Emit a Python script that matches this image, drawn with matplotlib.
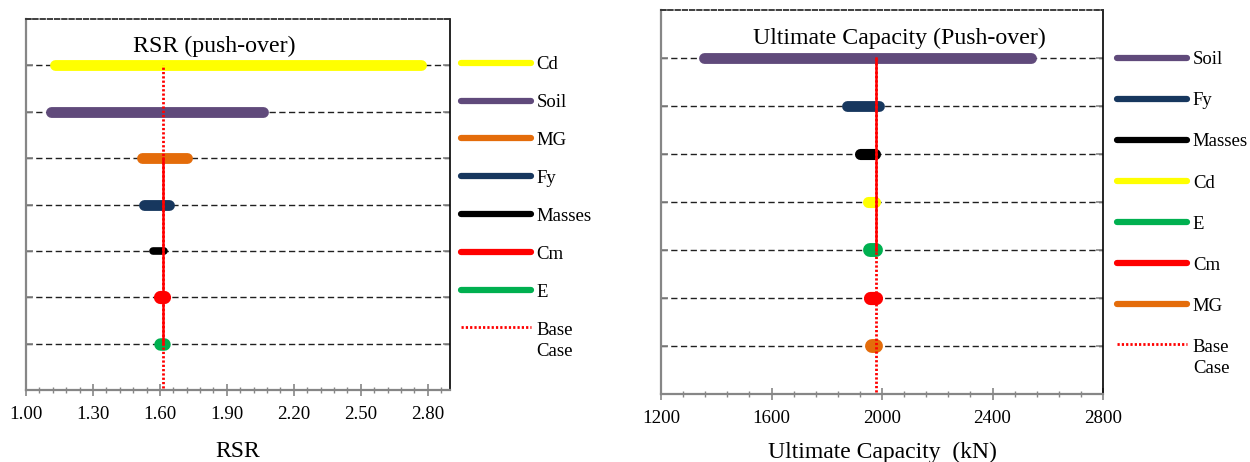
import matplotlib
matplotlib.use("Agg")
import matplotlib.pyplot as plt
from matplotlib.lines import Line2D
from matplotlib.legend_handler import HandlerLine2D
from matplotlib.ticker import MultipleLocator, FormatStrFormatter

plt.rcParams["font.family"] = ["Liberation Serif", "DejaVu Serif"]

# --- RSR (push-over) tornado data, rows listed top to bottom ---
rsr_params = ["Cd", "Soil", "MG", "Fy", "Masses", "Cm", "E"]
rsr_low = [1.13, 1.11, 1.52, 1.53, 1.57, 1.60, 1.60]
rsr_high = [2.77, 2.06, 1.72, 1.64, 1.62, 1.62, 1.62]
rsr_base = 1.615
rsr_base_span = [1, 5]  # rows covered by the solid base-case segment

# --- Ultimate capacity (push-over) tornado data, rows listed top to bottom ---
cap_params = ["Soil", "Fy", "Masses", "Cd", "E", "Cm", "MG"]
cap_low = [1355, 1875, 1920, 1950, 1957, 1958, 1964]
cap_high = [2540, 1990, 1975, 1975, 1978, 1980, 1978]
cap_base = 1978
cap_base_span = [3, 7]

colors = {
    "Cd": "#FFFF00",
    "Soil": "#604A7B",
    "MG": "#E46C0A",
    "Fy": "#17375E",
    "Masses": "#000000",
    "Cm": "#FF0000",
    "E": "#00B050",
}

# bar thickness (pt); the short bars were drawn a bit fatter
rsr_lw = {"Masses": 5.5, "Cm": 9.5, "E": 9.0}
cap_lw = {"Masses": 8.0, "Cd": 8.0, "E": 10.0, "Cm": 9.5, "MG": 10.0}

GRAY = "#868686"


class TopLineHandler(HandlerLine2D):
    """Put the legend line level with the first row of a two-line label."""

    def create_artists(self, legend, orig_handle, xdescent, ydescent, width,
                       height, fontsize, trans):
        artists = super().create_artists(legend, orig_handle, xdescent,
                                         ydescent, width, height, fontsize,
                                         trans)
        shift = 0.75 * fontsize
        for a in artists:
            a.set_ydata([y + shift for y in a.get_ydata()])
        return artists


def tornado(ax, params, lows, highs, widths, base, base_span, xlim, major,
            minor, fmt, title, title_x, xlabel, xlabel_pad, legend_anchor,
            legend_spacing):
    n = len(params)
    rows = list(range(n, 0, -1))

    # dashed guide lines at every row
    for y in rows:
        ax.axhline(y, color="#202020", lw=1.0, ls=(0, (4.5, 2.5)), zorder=1)

    # range bars
    for name, lo, hi, y in zip(params, lows, highs, rows):
        ax.plot([lo, hi], [y, y], color=colors[name], lw=widths.get(name, 7.8),
                solid_capstyle="round", zorder=3)

    # base case reference
    ax.plot([base, base], base_span, color="#FF0000", lw=1.8, zorder=4)
    ax.plot([base, base], [0.05, n], color="#FF0000", lw=2.0,
            ls=(0, (0.8, 0.75)), zorder=5)

    ax.set_xlim(*xlim)
    ax.set_ylim(0, n + 1)
    ax.xaxis.set_major_locator(MultipleLocator(major, offset=xlim[0] % major))
    ax.xaxis.set_minor_locator(MultipleLocator(minor, offset=xlim[0] % minor))
    ax.xaxis.set_major_formatter(FormatStrFormatter(fmt))
    ax.set_yticks(range(0, n + 2))
    ax.set_yticklabels([])

    ax.tick_params(axis="x", which="major", direction="inout", length=9,
                   color=GRAY, width=1.2, labelsize=13.6, pad=7)
    ax.tick_params(axis="x", which="minor", direction="inout", length=5,
                   color=GRAY, width=1.0)
    ax.tick_params(axis="y", which="major", direction="in", length=5,
                   color=GRAY, width=1.2, right=True)
    for t in ax.yaxis.get_major_ticks():
        t.tick2line.set_color("black")

    ax.spines["left"].set_color(GRAY)
    ax.spines["bottom"].set_color(GRAY)
    ax.spines["left"].set_linewidth(1.6)
    ax.spines["bottom"].set_linewidth(1.6)
    ax.spines["right"].set_color("black")
    ax.spines["right"].set_linewidth(1.2)
    ax.spines["top"].set_color("#303030")
    ax.spines["top"].set_linestyle((0, (2.5, 1.5)))
    ax.spines["top"].set_linewidth(1.3)

    ax.text(title_x, 0.925, title, transform=ax.transAxes, ha="center",
            va="center", fontsize=17.2)
    ax.set_xlabel(xlabel, fontsize=17, labelpad=xlabel_pad)

    handles = [Line2D([], [], color=colors[p], lw=4.5, solid_capstyle="round")
               for p in params]
    base_handle = Line2D([], [], color="#FF0000", lw=2.0, ls=(0, (0.8, 0.75)))
    handles.append(base_handle)
    labels = params + ["Base\nCase"]
    leg = ax.figure.legend(handles, labels, loc="upper left",
                           bbox_to_anchor=legend_anchor, frameon=False,
                           fontsize=13.5, handlelength=3.75, handletextpad=0.3,
                           labelspacing=legend_spacing, borderaxespad=0,
                           borderpad=0,
                           handler_map={base_handle: TopLineHandler()})
    for t in leg.get_texts():
        t.set_linespacing(1.35)


fig = plt.figure(figsize=(12.5, 4.62), dpi=100)
ax1 = fig.add_axes([0.0208, 0.1558, 0.3392, 0.803])
ax2 = fig.add_axes([0.5288, 0.1472, 0.3536, 0.831])

tornado(ax1, rsr_params, rsr_low, rsr_high, rsr_lw, rsr_base, rsr_base_span,
        (1.0, 2.9), 0.3, 0.06, "%.2f", "RSR (push-over)", 0.443, "RSR", 13,
        (0.3685, 1 - 56 / 462), 1.11)
tornado(ax2, cap_params, cap_low, cap_high, cap_lw, cap_base, cap_base_span,
        (1200, 2800), 400, 80, "%d", "Ultimate Capacity (Push-over)", 0.54,
        "Ultimate Capacity  (kN)", 11, (0.8935, 1 - 51 / 462), 1.28)

fig.savefig("out.png", dpi=100)
